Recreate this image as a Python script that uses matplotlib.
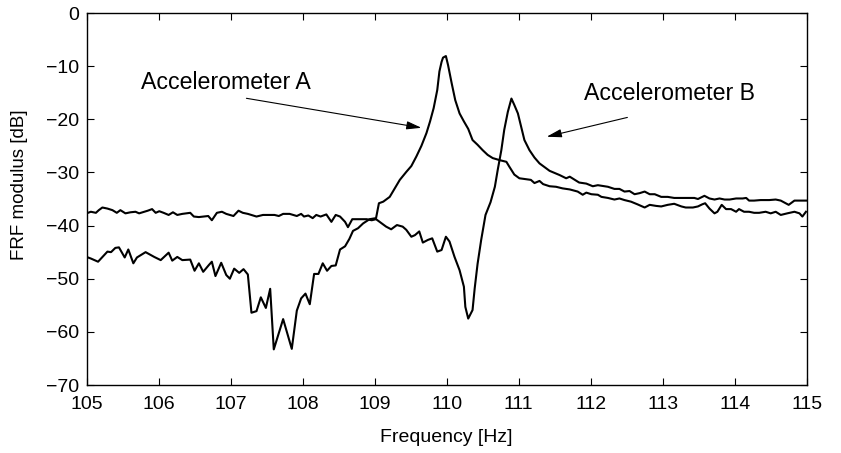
import matplotlib
matplotlib.use("Agg")
import matplotlib.pyplot as plt

plt.rcParams['font.family'] = ['Liberation Sans', 'DejaVu Sans']

# Accelerometer A (resonance peak near 110 Hz)
freq_a = [105.00, 105.06, 105.16, 105.29, 105.34, 105.40, 105.45, 105.53, 105.58, 105.65,
          105.70, 105.82, 105.94, 106.03, 106.14, 106.19, 106.26, 106.33, 106.44, 106.50,
          106.56, 106.62, 106.70, 106.74, 106.79, 106.87, 106.94, 106.99, 107.05, 107.12,
          107.18, 107.24, 107.29, 107.36, 107.42, 107.49, 107.55, 107.60, 107.73, 107.85,
          107.92, 107.98, 108.04, 108.10, 108.16, 108.22, 108.28, 108.34, 108.40, 108.46,
          108.52, 108.59, 108.65, 108.70, 108.77, 108.84, 108.93, 109.02, 109.06, 109.12,
          109.21, 109.28, 109.35, 109.44, 109.51, 109.58, 109.65, 109.72, 109.77, 109.82,
          109.87, 109.90, 109.93, 109.95, 109.99, 110.02, 110.07, 110.12, 110.18, 110.24,
          110.30, 110.36, 110.43, 110.50, 110.57, 110.64, 110.74, 110.83, 110.87, 110.94,
          111.01, 111.11, 111.17, 111.22, 111.29, 111.34, 111.43, 111.52, 111.61, 111.71,
          111.82, 111.89, 111.94, 112.01, 112.10, 112.15, 112.24, 112.33, 112.40, 112.47,
          112.56, 112.65, 112.75, 112.82, 112.91, 112.98, 113.07, 113.16, 113.26, 113.32,
          113.42, 113.49, 113.55, 113.59, 113.65, 113.72, 113.76, 113.82, 113.88, 113.95,
          114.02, 114.06, 114.13, 114.20, 114.27, 114.34, 114.43, 114.50, 114.57, 114.64,
          114.73, 114.83, 114.90, 114.94, 114.99]
db_a = [-45.9, -46.2, -46.8, -44.9, -45.0, -44.2, -44.1, -46.0, -44.5, -47.1,
        -46.0, -45.0, -45.9, -46.5, -45.1, -46.6, -45.9, -46.5, -46.4, -48.5,
        -47.1, -48.7, -47.4, -46.8, -49.5, -47.0, -49.3, -50.0, -48.1, -48.9,
        -48.2, -49.2, -56.4, -56.1, -53.5, -55.5, -51.9, -63.3, -57.6, -63.2,
        -56.0, -53.7, -52.8, -54.8, -49.1, -49.1, -47.1, -48.5, -47.6, -47.5,
        -44.5, -43.9, -42.5, -41.0, -40.5, -39.6, -38.8, -38.6, -35.8, -35.5,
        -34.6, -33.0, -31.4, -29.9, -28.8, -27.0, -25.0, -22.6, -20.4, -17.9,
        -14.5, -11.0, -9.2, -8.4, -8.1, -9.8, -13.2, -16.4, -18.9, -20.4,
        -21.8, -23.9, -24.8, -25.8, -26.7, -27.3, -27.7, -28.0, -28.9, -30.4,
        -31.1, -31.3, -31.4, -32.0, -31.6, -32.2, -32.6, -32.7, -33.0, -33.2,
        -33.6, -34.2, -33.8, -34.1, -34.2, -34.6, -34.8, -35.1, -34.9, -35.2,
        -35.5, -36.0, -36.6, -36.1, -36.3, -36.4, -36.1, -35.9, -36.4, -36.6,
        -36.6, -36.4, -36.0, -35.8, -36.8, -37.7, -37.4, -36.1, -36.9, -36.9,
        -37.4, -36.9, -37.4, -37.4, -37.6, -37.6, -37.4, -37.7, -37.4, -38.0,
        -37.7, -37.4, -37.7, -38.3, -37.4]

# Accelerometer B (anti-resonance near 110.3 Hz, peak near 110.9 Hz)
freq_b = [105.00, 105.06, 105.13, 105.17, 105.22, 105.29, 105.36, 105.42, 105.47, 105.54,
          105.61, 105.68, 105.73, 105.80, 105.85, 105.91, 105.96, 106.01, 106.07, 106.14,
          106.20, 106.26, 106.33, 106.44, 106.49, 106.56, 106.63, 106.69, 106.74, 106.81,
          106.88, 106.94, 107.04, 107.11, 107.17, 107.24, 107.36, 107.45, 107.55, 107.61,
          107.67, 107.73, 107.82, 107.92, 107.98, 108.02, 108.08, 108.14, 108.19, 108.25,
          108.33, 108.40, 108.46, 108.52, 108.59, 108.63, 108.69, 108.79, 108.89, 108.96,
          109.02, 109.09, 109.16, 109.23, 109.31, 109.39, 109.44, 109.51, 109.56, 109.62,
          109.67, 109.74, 109.80, 109.87, 109.93, 109.99, 110.04, 110.11, 110.18, 110.24,
          110.26, 110.30, 110.36, 110.39, 110.43, 110.48, 110.54, 110.61, 110.67, 110.71,
          110.76, 110.80, 110.85, 110.90, 110.94, 110.99, 111.04, 111.08, 111.15, 111.22,
          111.29, 111.36, 111.43, 111.52, 111.57, 111.66, 111.71, 111.78, 111.84, 111.94,
          112.03, 112.10, 112.15, 112.24, 112.33, 112.40, 112.47, 112.54, 112.61, 112.68,
          112.75, 112.82, 112.89, 112.98, 113.07, 113.16, 113.26, 113.35, 113.44, 113.49,
          113.55, 113.58, 113.65, 113.72, 113.79, 113.86, 113.93, 114.02, 114.11, 114.16,
          114.20, 114.27, 114.36, 114.48, 114.57, 114.64, 114.75, 114.83, 114.92, 114.99]
db_b = [-37.7, -37.4, -37.6, -37.1, -36.6, -36.8, -37.1, -37.6, -37.1, -37.7,
        -37.5, -37.4, -37.7, -37.4, -37.2, -36.9, -37.6, -37.3, -37.6, -38.0,
        -37.5, -38.0, -37.8, -37.6, -38.3, -38.4, -38.3, -38.2, -39.0, -37.6,
        -37.4, -37.8, -38.2, -37.2, -37.6, -37.8, -38.3, -38.0, -38.0, -38.0,
        -38.2, -37.8, -37.8, -38.2, -37.8, -38.3, -38.1, -38.6, -38.0, -38.3,
        -37.9, -39.3, -38.0, -38.3, -39.3, -40.3, -38.8, -38.8, -38.8, -39.0,
        -38.8, -39.5, -40.2, -40.7, -39.9, -40.2, -40.8, -42.1, -41.8, -41.1,
        -43.2, -42.7, -42.4, -44.9, -44.6, -42.1, -43.0, -45.9, -48.4, -51.5,
        -55.3, -57.5, -55.9, -51.8, -47.2, -42.7, -38.0, -35.6, -32.7, -29.5,
        -25.8, -22.0, -18.6, -16.1, -17.3, -18.9, -21.7, -23.9, -25.8, -27.2,
        -28.3, -29.0, -29.7, -30.2, -30.5, -31.1, -30.8, -31.4, -31.9, -32.1,
        -32.6, -32.4, -32.5, -32.7, -33.1, -33.1, -33.6, -33.5, -34.1, -33.9,
        -33.6, -34.1, -34.1, -34.6, -34.6, -34.8, -34.8, -34.8, -34.8, -35.0,
        -34.6, -34.4, -34.9, -35.1, -34.9, -35.1, -35.1, -34.9, -34.9, -34.8,
        -35.3, -35.3, -35.2, -35.2, -35.1, -35.3, -36.1, -35.3, -35.3, -35.3]

x_ticks = [105, 106, 107, 108, 109, 110, 111, 112, 113, 114, 115]
y_ticks = [0, -10, -20, -30, -40, -50, -60, -70]
label_a = "Accelerometer A"
label_b = "Accelerometer B"

fig = plt.figure(figsize=(8.41, 4.53), dpi=100)
ax = fig.add_axes([0.1029, 0.1501, 0.8563, 0.8212])

ax.plot(freq_a, db_a, color='k', lw=1.5)
ax.plot(freq_b, db_b, color='k', lw=1.5)

ax.set_xlim(105, 115)
ax.set_ylim(-70, 0)
ax.set_xticks(x_ticks)
ax.set_yticks(y_ticks)
ax.tick_params(direction='in', length=5, width=0.8, labelsize=14,
               top=True, right=True)
ax.tick_params(axis='y', pad=5)
ax.tick_params(axis='x', pad=8)
for s in ax.spines.values():
    s.set_linewidth(1.0)

ax.set_xlabel("Frequency [Hz]", fontsize=14)
ax.set_ylabel("FRF modulus [dB]", fontsize=13.5)
ax.xaxis.set_label_coords(0.5, -0.118)
ax.yaxis.set_label_coords(-0.093, 0.5376)
ax.xaxis.label.set_va('top')
ax.yaxis.label.set_va('center')

arrow_kw = dict(arrowstyle='-|>,head_length=0.9,head_width=0.25', color='k',
                lw=0.8, shrinkA=0, shrinkB=0, mutation_scale=10)
ax.text(105.75, -13.1, label_a, fontsize=16.7, ha='left', va='center')
ax.annotate('', xy=(109.65, -21.6), xytext=(107.22, -16.05), arrowprops=arrow_kw)
ax.text(111.91, -15.1, label_b, fontsize=16.7, ha='left', va='center')
ax.annotate('', xy=(111.39, -23.28), xytext=(112.51, -19.65), arrowprops=arrow_kw)

fig.savefig("out.png", dpi=100)
